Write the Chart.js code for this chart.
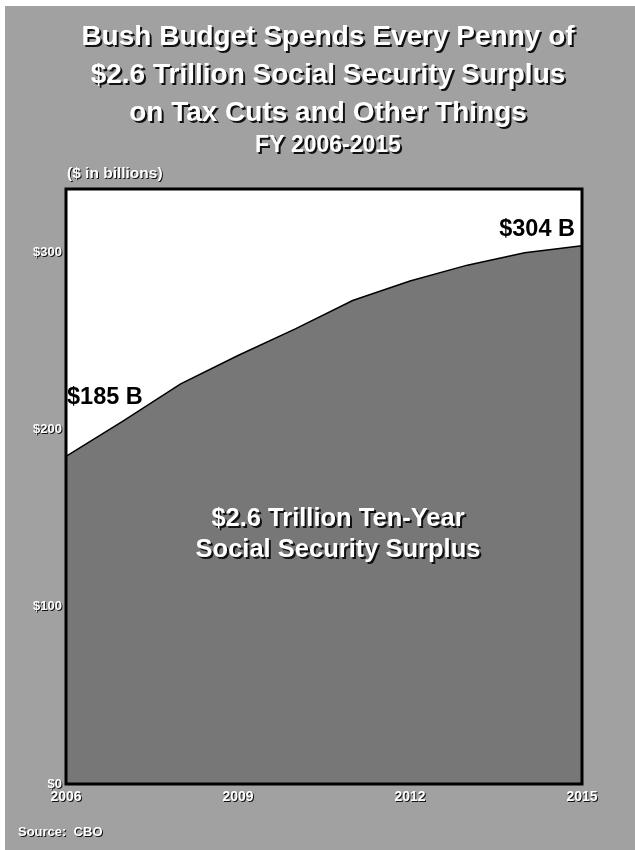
<!DOCTYPE html>
<html>
<head>
<meta charset="utf-8">
<script src="https://cdn.jsdelivr.net/npm/chart.js@4.4.1/dist/chart.umd.min.js"></script>
<style>
    html, body { margin: 0; padding: 0; background: #fff; }
    #wrap { position: absolute; left: 5px; top: 6px; width: 630px; height: 844px; background: #a1a1a1; }
</style>
</head>
<body>
<div id="wrap"><canvas id="myChart" width="630" height="844"></canvas></div>
<script>
// chart data
var years = ['2006', '2007', '2008', '2009', '2010', '2011', '2012', '2013', '2014', '2015'];
var surplus = [185, 205, 226, 242, 257, 273, 284, 293, 300, 304];
var yTicks = [0, 100, 200, 300];

// texts
var titleLines = ['Bush Budget Spends Every Penny of', '$2.6 Trillion Social Security Surplus', 'on Tax Cuts and Other Things'];
var subTitle = 'FY 2006-2015';
var unitLabel = '($ in billions)';
var areaLabel = ['$2.6 Trillion Ten-Year', 'Social Security Surplus'];
var sourceNote = 'Source:  CBO';

var FONT = '"Liberation Sans", Arial, sans-serif';

function shadowText(ctx, text, x, y, font, color, off) {
    ctx.font = font;
    ctx.fillStyle = '#111';
    ctx.fillText(text, x + off, y + off);
    ctx.fillStyle = color;
    ctx.fillText(text, x, y);
}

var decor = {
    id: 'decor',
    beforeDraw: function (chart) {
        var ctx = chart.ctx, a = chart.chartArea;
        ctx.save();
        ctx.shadowColor = 'rgba(0,0,0,0)';
        ctx.fillStyle = '#fff';
        ctx.fillRect(a.left, a.top, a.right - a.left, a.bottom - a.top);
        ctx.restore();
    },
    afterDatasetsDraw: function (chart) {
        var ctx = chart.ctx, a = chart.chartArea;
        ctx.save();
        ctx.strokeStyle = '#000';
        ctx.lineWidth = 3;
        ctx.strokeRect(a.left, a.top, a.right - a.left, a.bottom - a.top);
        ctx.restore();
        // tick labels (drawn next, z:1) get a dark shadow
        ctx.shadowColor = '#111';
        ctx.shadowOffsetX = 1;
        ctx.shadowOffsetY = 1;
        ctx.shadowBlur = 0;
    },
    afterDraw: function (chart) {
        var ctx = chart.ctx, a = chart.chartArea;
        var xs = chart.scales.x, ys = chart.scales.y;
        ctx.shadowColor = 'rgba(0,0,0,0)';
        ctx.shadowOffsetX = 0;
        ctx.shadowOffsetY = 0;
        ctx.save();
        ctx.textBaseline = 'middle';
        ctx.textAlign = 'center';
        var cx = chart.width / 2 + 8;
        for (var i = 0; i < titleLines.length; i++) {
            shadowText(ctx, titleLines[i], cx, 31 + i * 38, 'bold 28px ' + FONT, '#fff', 2);
        }
        shadowText(ctx, subTitle, cx, 140, 'bold 23px ' + FONT, '#fff', 2);

        ctx.textAlign = 'left';
        shadowText(ctx, unitLabel, a.left + 1, 168, 'bold 15.5px ' + FONT, '#fff', 1);
        shadowText(ctx, sourceNote, 13, 826, 'bold 13px ' + FONT, '#fff', 1);

        // value labels at both ends
        ctx.font = 'bold 23.5px ' + FONT;
        ctx.fillStyle = '#000';
        ctx.textAlign = 'left';
        ctx.fillText('$' + surplus[0] + ' B', xs.getPixelForValue(0) + 1, ys.getPixelForValue(surplus[0]) - 59);
        ctx.textAlign = 'right';
        var last = surplus.length - 1;
        ctx.fillText('$' + surplus[last] + ' B', xs.getPixelForValue(last) - 7, ys.getPixelForValue(surplus[last]) - 16);

        // label inside the area
        ctx.textAlign = 'center';
        var mx = (a.left + a.right) / 2 + 14;
        shadowText(ctx, areaLabel[0], mx, ys.getPixelForValue(150) + 1, 'bold 25.5px ' + FONT, '#fff', 2);
        shadowText(ctx, areaLabel[1], mx, ys.getPixelForValue(150) + 32, 'bold 25.5px ' + FONT, '#fff', 2);
        ctx.restore();
    }
};

var ctx = document.getElementById('myChart').getContext('2d');
var chart = new Chart(ctx, {
    type: 'line',
    data: {
        labels: years,
        datasets: [{
            label: 'Social Security Surplus',
            data: surplus,
            borderColor: '#000',
            borderWidth: 1.5,
            backgroundColor: '#777777',
            fill: 'origin',
            tension: 0,
            pointRadius: 0
        }]
    },
    options: {
        responsive: false,
        animation: false,
        layout: { padding: { left: 0, top: 183, right: 53, bottom: 42 } },
        plugins: {
            legend: { display: false },
            tooltip: { enabled: false },
            title: { display: false }
        },
        scales: {
            x: {
                offset: false,
                grid: { display: false, drawTicks: false },
                border: { display: false },
                afterFit: function (scale) { scale.height = 24; },
                ticks: {
                    z: 1,
                    autoSkip: false,
                    maxRotation: 0,
                    padding: 5,
                    color: '#fff',
                    font: { family: FONT, size: 14, weight: 'bold' },
                    callback: function (val, i) { return i % 3 === 0 ? years[i] : ''; }
                }
            },
            y: {
                min: 0,
                max: 336,
                grid: { display: false, drawTicks: false },
                border: { display: false },
                afterFit: function (scale) { scale.width = 61; },
                afterBuildTicks: function (axis) {
                    axis.ticks = yTicks.map(function (v) { return { value: v }; });
                },
                ticks: {
                    z: 1,
                    padding: 4,
                    color: '#fff',
                    font: { family: FONT, size: 13, weight: 'bold' },
                    callback: function (val) { return '$' + val; }
                }
            }
        }
    },
    plugins: [decor]
});
</script>
</body>
</html>
